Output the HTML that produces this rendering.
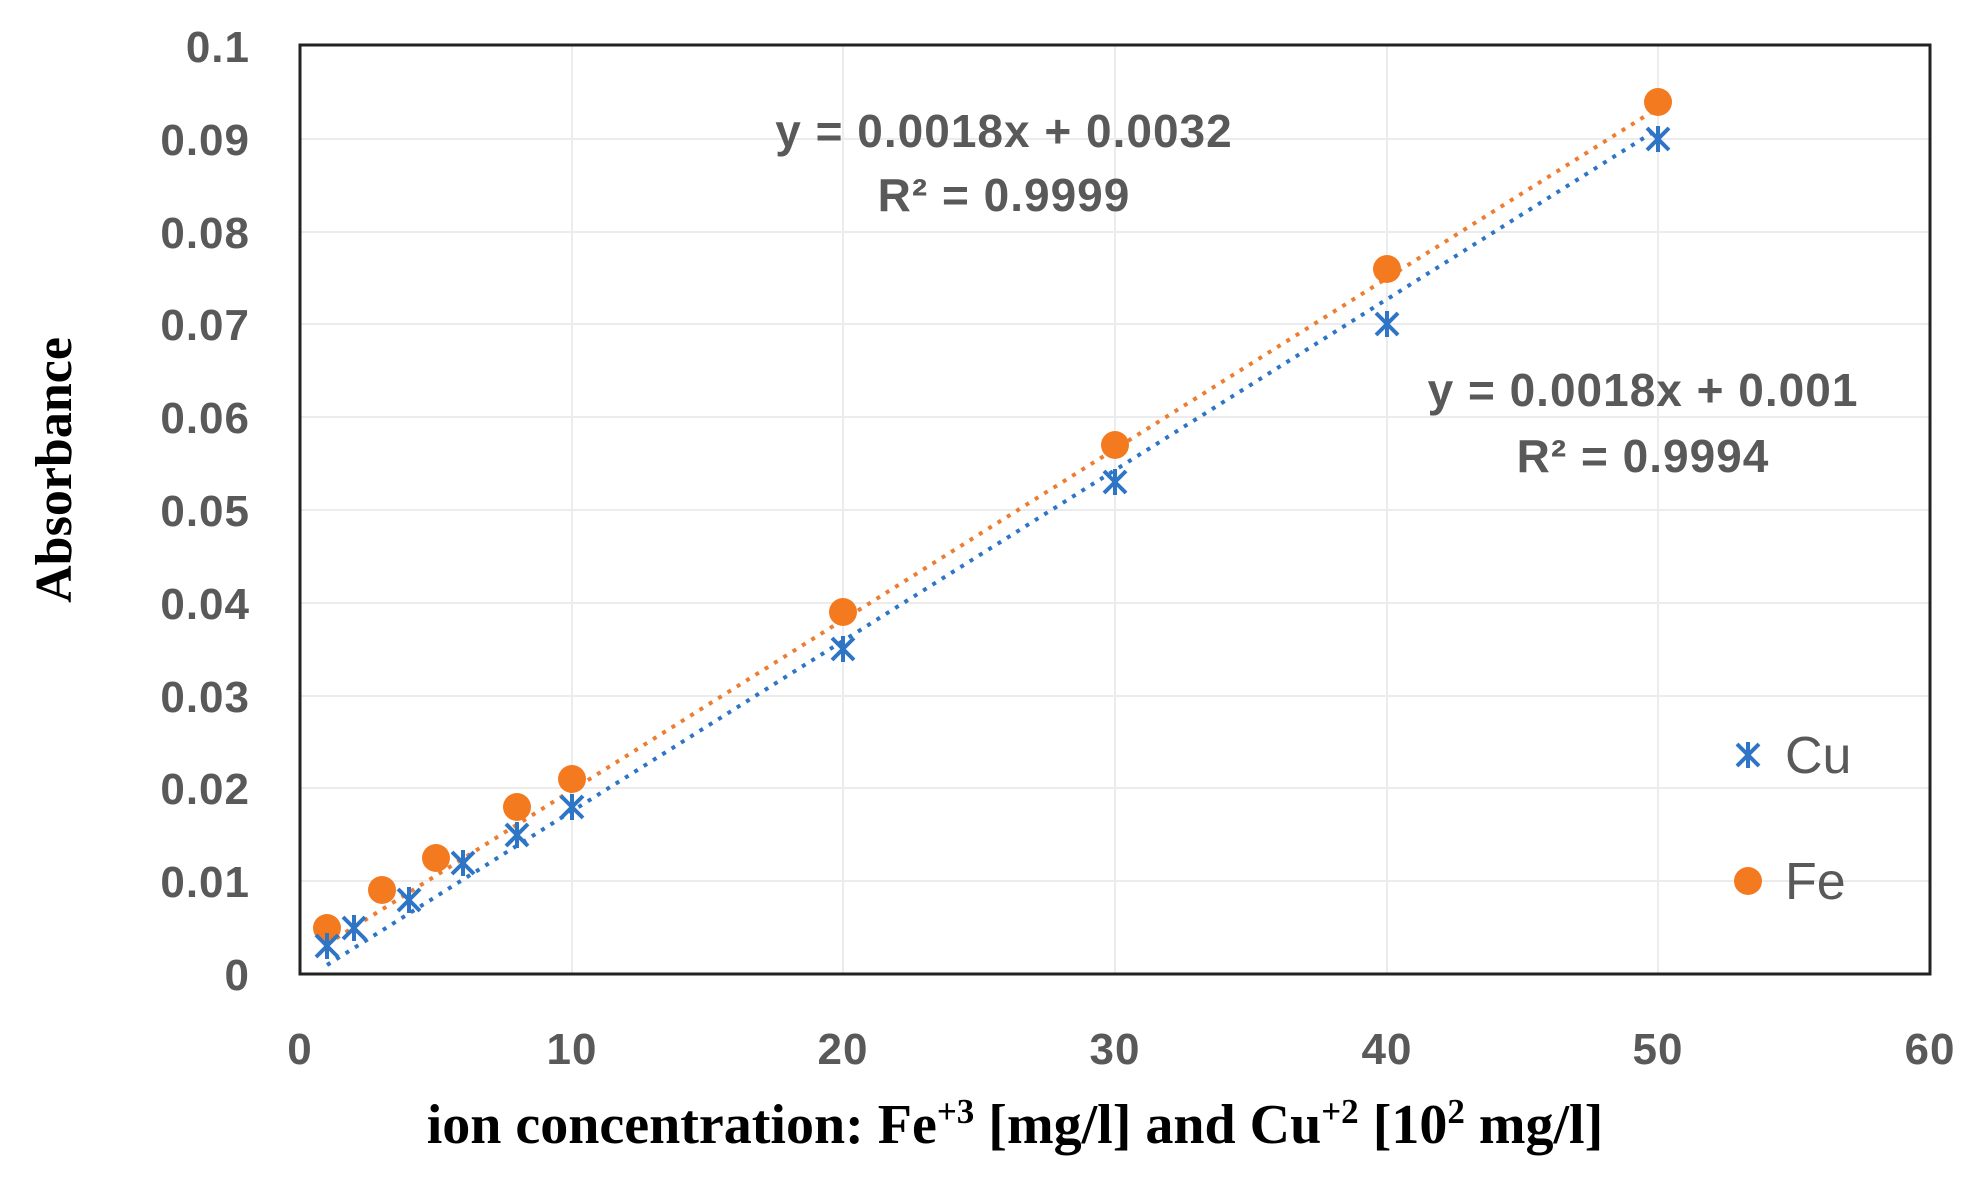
<!DOCTYPE html><html><head><style>body{margin:0;background:#fff}</style></head><body>
<svg width="1983" height="1176" xmlns="http://www.w3.org/2000/svg" font-family="'Liberation Sans',sans-serif">
<rect width="1983" height="1176" fill="#fff"/>
<g stroke="#ececec" stroke-width="2">
<line x1="572" y1="45" x2="572" y2="974"/><line x1="843" y1="45" x2="843" y2="974"/><line x1="1115" y1="45" x2="1115" y2="974"/><line x1="1387" y1="45" x2="1387" y2="974"/><line x1="1658" y1="45" x2="1658" y2="974"/>
<line x1="300" y1="881" x2="1930" y2="881"/><line x1="300" y1="788" x2="1930" y2="788"/><line x1="300" y1="696" x2="1930" y2="696"/><line x1="300" y1="603" x2="1930" y2="603"/><line x1="300" y1="510" x2="1930" y2="510"/><line x1="300" y1="417" x2="1930" y2="417"/><line x1="300" y1="324" x2="1930" y2="324"/><line x1="300" y1="232" x2="1930" y2="232"/><line x1="300" y1="139" x2="1930" y2="139"/>
</g>
<rect x="300" y="45" width="1630" height="929" fill="none" stroke="#222" stroke-width="3"/>
<g fill="#595959" font-size="44" font-weight="bold" text-anchor="end" letter-spacing="1">
<text x="250" y="990">0</text><text x="250" y="897">0.01</text><text x="250" y="804">0.02</text><text x="250" y="712">0.03</text><text x="250" y="619">0.04</text><text x="250" y="526">0.05</text><text x="250" y="433">0.06</text><text x="250" y="340">0.07</text><text x="250" y="248">0.08</text><text x="250" y="155">0.09</text><text x="250" y="62">0.1</text>
</g>
<g fill="#595959" font-size="44" font-weight="bold" text-anchor="middle" letter-spacing="1">
<text x="300" y="1064">0</text><text x="572" y="1064">10</text><text x="843" y="1064">20</text><text x="1115" y="1064">30</text><text x="1387" y="1064">40</text><text x="1658" y="1064">50</text><text x="1930" y="1064">60</text>
</g>
<text x="1015" y="1143" font-family="'Liberation Serif',serif" font-weight="bold" font-size="56" text-anchor="middle">ion concentration: Fe<tspan font-size="35" dy="-20">+3</tspan><tspan dy="20"> [mg/l] and Cu</tspan><tspan font-size="35" dy="-20">+2</tspan><tspan dy="20"> [10</tspan><tspan font-size="35" dy="-20">2</tspan><tspan dy="20"> mg/l]</tspan></text>
<text transform="translate(71,470) rotate(-90)" font-family="'Liberation Serif',serif" font-weight="bold" font-size="52" text-anchor="middle">Absorbance</text>
<line x1="327" y1="944" x2="1658" y2="108" stroke="#ED7D31" stroke-width="4" stroke-dasharray="4,7"/>
<line x1="327" y1="965" x2="1658" y2="129" stroke="#2E75C6" stroke-width="4" stroke-dasharray="4,7"/>
<g fill="#595959" font-size="46" font-weight="bold" text-anchor="middle" letter-spacing="1">
<text x="1004" y="147">y = 0.0018x + 0.0032</text><text x="1004" y="211">R² = 0.9999</text>
<text x="1643" y="406">y = 0.0018x + 0.001</text><text x="1643" y="472">R² = 0.9994</text>
</g>
<g fill="#F47A20">
<circle cx="327" cy="928" r="14"/><circle cx="382" cy="890" r="14"/><circle cx="436" cy="858" r="14"/><circle cx="517" cy="807" r="14"/><circle cx="572" cy="779" r="14"/><circle cx="843" cy="612" r="14"/><circle cx="1115" cy="445" r="14"/><circle cx="1387" cy="269" r="14"/><circle cx="1658" cy="102" r="14"/>
<circle cx="1748" cy="881" r="14"/>
</g>
<defs><g id="s" stroke="#2E75C6" stroke-width="4"><line x1="-11" y1="-11" x2="11" y2="11"/><line x1="-11" y1="11" x2="11" y2="-11"/><line x1="0" y1="-13" x2="0" y2="13"/></g></defs>
<use href="#s" x="327" y="946"/><use href="#s" x="354" y="928"/><use href="#s" x="409" y="900"/><use href="#s" x="463" y="863"/><use href="#s" x="517" y="835"/><use href="#s" x="572" y="807"/><use href="#s" x="843" y="649"/><use href="#s" x="1115" y="482"/><use href="#s" x="1387" y="324"/><use href="#s" x="1658" y="139"/><use href="#s" x="1748" y="755"/>
<g fill="#595959" font-size="52"><text x="1785" y="773">Cu</text><text x="1785" y="899">Fe</text></g>
</svg></body></html>
